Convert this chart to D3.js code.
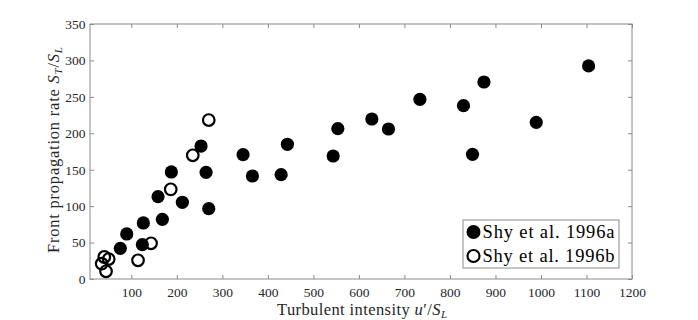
<!DOCTYPE html>
<html><head><meta charset="utf-8">
<script src="https://cdn.jsdelivr.net/npm/d3@7"></script>
<style>body{margin:0;background:#fff}svg{display:block}</style>
</head><body>
<svg id="c" width="698" height="320"></svg>
<script>
const seriesA_x = [75.8, 89.9, 126.4, 124.2, 158.7, 168.2, 187.9, 212.1, 253.2, 264.2, 270.1, 345.5, 366, 429.1, 442.9, 543.4, 553.7, 628.4, 665, 734, 829.8, 849.6, 874.7, 989.6, 1104.6];
const seriesA_y = [42.1, 61.8, 76.9, 47.1, 113, 81.9, 146.9, 105.3, 182.5, 146.4, 96.5, 170.6, 141.4, 143.2, 184.9, 168.8, 206.3, 219.6, 205.9, 246.6, 237.9, 171.1, 270.4, 215, 292.5];
const seriesB_x = [270.1, 235, 186.6, 143.3, 114.7, 44.4, 40.6, 50.3, 34.9];
const seriesB_y = [218.2, 169.8, 123.1, 49, 25.7, 10.6, 30.2, 27.4, 21];
const xTicks = [100, 200, 300, 400, 500, 600, 700, 800, 900, 1000, 1100, 1200];
const yTicks = [0, 50, 100, 150, 200, 250, 300, 350];
const legendLabels = ["Shy et al. 1996a", "Shy et al. 1996b"];

const svg = d3.select("#c");
const L = 90, R = 632, T = 24, B = 279;
const x = d3.scaleLinear().domain([9.2, 1200]).range([L, R]);
const y = d3.scaleLinear().domain([0, 350]).range([B, T]);
const font = "Liberation Serif, serif";
const axisCol = "#8a8a8a";

const g = svg.append("g");
g.append("rect").attr("x", L).attr("y", T).attr("width", R - L).attr("height", B - T)
  .attr("fill", "none").attr("stroke", axisCol).attr("stroke-width", 1);

function styleAxis(sel) {
  sel.attr("font-family", font).attr("font-size", 13.5);
  sel.select(".domain").remove();
  sel.selectAll("line").attr("stroke", axisCol);
  sel.selectAll("text").attr("fill", "#262626");
}
const fmt = d3.format("d");
g.append("g").attr("transform", `translate(0,${B})`)
  .call(d3.axisBottom(x).tickValues(xTicks).tickFormat(fmt).tickSizeInner(-4).tickSizeOuter(0).tickPadding(8))
  .call(styleAxis);
g.append("g").attr("transform", `translate(0,${T})`)
  .call(d3.axisTop(x).tickValues(xTicks).tickSizeInner(-4).tickSizeOuter(0).tickFormat(""))
  .call(styleAxis);
g.append("g").attr("transform", `translate(${L},0)`)
  .call(d3.axisLeft(y).tickValues(yTicks).tickFormat(fmt).tickSizeInner(-4).tickSizeOuter(0).tickPadding(4.5))
  .call(styleAxis);
g.append("g").attr("transform", `translate(${R},0)`)
  .call(d3.axisRight(y).tickValues(yTicks).tickSizeInner(-4).tickSizeOuter(0).tickFormat(""))
  .call(styleAxis);

const A = seriesA_x.map((v, i) => ({x: v, y: seriesA_y[i]}));
const Bd = seriesB_x.map((v, i) => ({x: v, y: seriesB_y[i]}));
g.append("g").selectAll("circle").data(A).join("circle")
  .attr("cx", d => x(d.x)).attr("cy", d => y(d.y)).attr("r", 6.6).attr("fill", "#000");
g.append("g").selectAll("circle").data(Bd).join("circle")
  .attr("cx", d => x(d.x)).attr("cy", d => y(d.y)).attr("r", 5.8)
  .attr("fill", "none").attr("stroke", "#000").attr("stroke-width", 2.2);

// axis labels
svg.append("text").attr("x", 362).attr("y", 314.5).attr("text-anchor", "middle")
  .attr("font-family", font).attr("font-size", 16.5).attr("fill", "#262626")
  .attr("textLength", 170).attr("lengthAdjust", "spacing")
  .html("Turbulent intensity <tspan font-style='italic'>u</tspan>′/<tspan font-style='italic'>S</tspan><tspan font-style='italic' font-size='11' dy='3'>L</tspan>");
svg.append("text").attr("transform", `translate(59,150) rotate(-90)`).attr("text-anchor", "middle")
  .attr("font-family", font).attr("font-size", 16.5).attr("fill", "#262626")
  .attr("textLength", 206).attr("lengthAdjust", "spacing")
  .html("Front propagation rate <tspan font-style='italic'>S</tspan><tspan font-style='italic' font-size='11' dy='3'>T</tspan><tspan dy='-3'>/</tspan><tspan font-style='italic'>S</tspan><tspan font-style='italic' font-size='11' dy='3'>L</tspan>");

// legend
const lg = svg.append("g");
lg.append("rect").attr("x", 463).attr("y", 220).attr("width", 156).attr("height", 48)
  .attr("fill", "#fff").attr("stroke", axisCol).attr("stroke-width", 1);
legendLabels.forEach((t, i) => {
  const cy = 232 + i * 24;
  if (i === 0) lg.append("circle").attr("cx", 473.5).attr("cy", cy).attr("r", 7).attr("fill", "#000");
  else lg.append("circle").attr("cx", 473.5).attr("cy", cy).attr("r", 6).attr("fill", "none").attr("stroke", "#000").attr("stroke-width", 2.2);
  lg.append("text").attr("x", 482.5).attr("y", cy + 6).text(t)
    .attr("font-family", font).attr("font-size", 18.5).attr("fill", "#000")
    .attr("textLength", 132).attr("lengthAdjust", "spacing");
});
</script>
</body></html>
